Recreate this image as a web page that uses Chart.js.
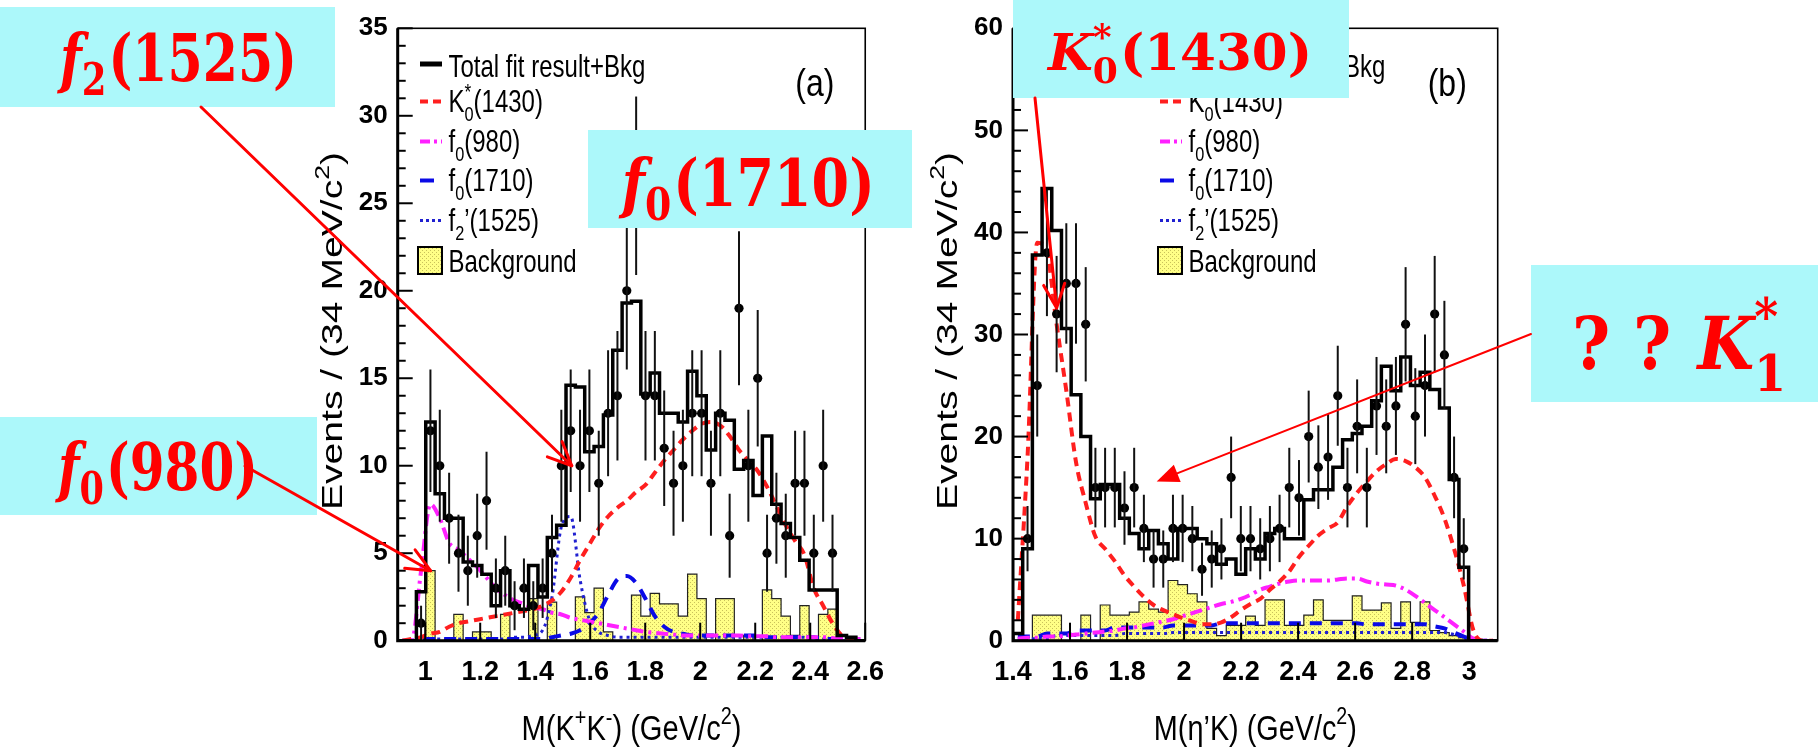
<!DOCTYPE html>
<html>
<head>
<meta charset="utf-8">
<script src="https://cdn.jsdelivr.net/npm/chart.js@4.4.1/dist/chart.umd.min.js"></script>
<style>
  html, body { margin: 0; padding: 0; background: #fff; }
  #wrap { position: relative; width: 1818px; height: 752px; overflow: hidden; background: #fff; }
  #wrap canvas { position: absolute; top: 0; }
</style>
</head>
<body>
<div id="wrap">
  <canvas id="chartA" width="900" height="752" style="left:0px"></canvas>
  <canvas id="chartB" width="918" height="752" style="left:900px"></canvas>
  <canvas id="notes" width="1818" height="752" style="left:0px"></canvas>
</div>
<script>
// ---------- (a) M(K+K-) spectrum: 50 bins of 34 MeV from 0.9 to 2.6 GeV/c^2 ----------
const kkLow = 0.9, kkBin = 0.034, kkHigh = 2.6;
const kkData = [null,null,1,12,10,7,5,4,6,8,3,4,2,3,2,3,5,10,12,10,12,9,13,14,20,26,14,14,11,9,10,13,13,9,13,6,19,10,15,5,7,6,9,9,5,10,5,null,null,null];
const kkErr  = [null,null,1.0,3.5,3.2,2.6,2.2,2.0,2.4,2.8,1.7,2.0,1.4,1.7,1.4,1.7,2.2,3.2,3.5,3.2,3.5,3.0,3.6,3.7,4.5,5.1,3.7,3.7,3.3,3.0,3.2,3.6,3.6,3.0,3.6,2.4,4.4,3.2,3.9,2.2,2.6,2.4,3.0,3.0,2.2,3.2,2.2,null,null,null];
const kkTotal = [0,0,2.8,12.5,8.4,7.0,7.0,4.5,4.3,3.8,2.0,4.0,2.0,1.8,4.3,2.5,5.9,6.6,14.6,14.5,10.8,11.1,12.9,16.6,19.3,19.4,14.1,15.3,13.0,13.0,12.5,15.4,14.0,10.9,13.0,12.6,9.8,10.3,8.3,11.7,7.8,6.7,5.9,4.6,2.9,2.9,2.9,0.3,0.2,0];
const kkK0    = [0,0.1,0.2,0.4,0.5,0.8,1.0,1.1,1.2,1.3,1.4,1.5,1.6,1.7,1.8,2.0,2.3,2.8,3.6,4.6,5.5,6.4,7.1,7.6,8.0,8.5,8.9,9.6,10.3,10.9,11.5,12.0,12.4,12.5,12.3,11.7,10.9,10.3,9.7,8.8,7.7,6.6,5.7,4.9,3.0,2.0,1.0,0.3,0.1,0];
const kkF980  = [0,0,4.0,7.8,7.0,5.6,5.2,4.7,4.2,3.6,3.0,2.6,2.3,2.1,1.9,1.8,1.6,1.5,1.3,1.2,1.1,1.0,0.9,0.8,0.7,0.6,0.5,0.45,0.4,0.35,0.3,0.3,0.3,0.3,0.3,0.3,0.3,0.25,0.25,0.25,0.2,0.2,0.2,0.2,0.2,0.2,0.15,0.1,0.1,0.1];
const kkF1710 = [0,0,0.1,0.1,0.1,0.1,0.1,0.1,0.1,0.1,0.1,0.1,0.1,0.1,0.1,0.1,0.2,0.3,0.4,0.6,1.0,1.6,2.6,3.5,3.7,3.3,2.4,1.4,0.8,0.5,0.4,0.3,0.3,0.3,0.3,0.3,0.3,0.3,0.3,0.2,0.2,0.2,0.2,0.2,0.2,0.1,0.1,0,0,0];
const kkF1525 = [0,0,0.1,0.1,0.1,0.1,0.1,0.1,0.1,0.1,0.1,0.1,0.2,0.2,0.3,0.6,2.5,6.5,7.1,3.5,1.2,0.5,0.3,0.2,0.2,0.2,0.2,0.2,0.2,0.2,0.2,0.2,0.2,0.2,0.2,0.2,0.2,0.2,0.2,0.2,0.2,0.2,0.2,0.2,0.1,0.1,0.1,0,0,0];
const kkBkg   = [0,0,0,4.0,0,0,1.5,0,0.5,0.5,0,1.5,0,0,2.4,0,2.2,0,0,2.5,1.6,3.0,0.5,0,0,2.6,1.4,2.7,2.1,2.1,1.4,3.8,2.4,0,2.4,2.4,0,0.3,0,2.9,2.4,1.4,0.3,2.0,0,1.5,1.8,0,0,0];
const kkXTicks = [1, 1.2, 1.4, 1.6, 1.8, 2, 2.2, 2.4, 2.6];
const kkXLabels = ['1', '1.2', '1.4', '1.6', '1.8', '2', '2.2', '2.4', '2.6'];
const kkYTicks = [0, 5, 10, 15, 20, 25, 30, 35];
const kkYLabels = ['0', '5', '10', '15', '20', '25', '30', '35'];
const kkYMinorStep = 1;

// ---------- (b) M(eta'K) spectrum: 50 bins of 34 MeV from 1.4 to 3.1 GeV/c^2 ----------
const ekLow = 1.4, ekBin = 0.034, ekHigh = 3.1;
const ekData = [null,10,25,38,32,35,35,31,15,15,15,13,15,11,8,8,11,11,10,7,8,9,16,10,10,9,10,11,15,14,20,17,18,24,15,21,15,23,21,23,31,22,25,32,28,16,9,null,null,null];
const ekErr  = [null,3.2,5.0,6.2,5.7,5.9,5.9,5.6,3.9,3.9,3.9,3.6,3.9,3.3,2.8,2.8,3.3,3.3,3.2,2.6,2.8,3.0,4.0,3.2,3.2,3.0,3.2,3.3,3.9,3.7,4.5,4.1,4.2,4.9,3.9,4.6,3.9,4.8,4.6,4.8,5.6,4.7,5.0,5.7,5.3,4.0,3.0,null,null,null];
const ekTotal = [0.7,9.0,37.8,44.3,40.2,30.6,24.1,20.0,13.9,15.3,15.3,12.0,10.5,9.0,10.8,9.5,8.0,11.0,11.0,10.0,9.5,7.5,8.0,6.5,9.0,8.0,10.5,11.0,10.0,10.0,13.8,14.8,14.8,17.0,19.7,20.3,21.0,23.5,26.9,24.5,27.8,25.0,26.3,24.6,22.8,15.8,7.2,0,0,0];
const ekK0    = [2,18,39,38,31,24.5,17.5,13.5,10.2,9.0,7.8,6.4,5.3,4.3,3.5,3.0,2.6,2.2,1.9,1.6,1.6,1.8,2.3,3.0,3.6,4.1,5.0,5.8,6.8,8.2,9.3,10.3,11.0,11.6,13.2,14.5,15.6,16.6,17.3,17.8,17.6,17.0,16.0,14.2,12.0,9.0,5.4,1.0,0,0];
const ekF980  = [0.2,0.3,0.3,0.4,0.4,0.5,0.6,0.7,0.8,0.9,1.0,1.2,1.3,1.5,1.7,1.9,2.1,2.4,2.7,3.0,3.3,3.6,3.8,4.1,4.5,5.0,5.3,5.6,5.8,5.9,5.9,5.9,5.9,6.0,6.1,6.1,5.8,5.6,5.5,5.4,5.0,4.4,3.7,3.0,2.3,1.6,0.9,0.2,0,0];
const ekF1710 = [0.4,0.4,0.4,0.7,0.7,0.7,1.0,1.0,1.0,1.0,1.3,1.3,1.3,1.3,1.3,1.3,1.5,1.5,1.5,1.5,1.5,1.7,1.7,1.7,1.7,1.7,1.7,1.7,1.7,1.7,1.7,1.7,1.7,1.7,1.7,1.7,1.6,1.6,1.6,1.6,1.6,1.6,1.6,1.4,1.2,0.8,0.4,0.1,0,0];
const ekF1525 = [0.2,0.2,0.2,0.2,0.5,0.5,0.5,0.5,0.5,0.5,0.5,0.7,0.7,0.7,0.7,0.7,0.8,0.8,0.8,0.8,0.8,0.8,0.8,0.8,0.8,0.8,0.8,0.8,0.8,0.8,0.8,0.8,0.8,0.8,0.8,0.8,0.8,0.8,0.8,0.8,0.8,0.8,0.8,0.8,0.8,0.6,0.3,0,0,0];
const ekBkg   = [0,0,2.5,2.5,2.5,0,0,2.5,0,3.5,2.5,2.5,2.8,3.8,3.1,2.8,5.9,5.5,4.6,3.8,1.2,0.5,1.5,1.5,2.4,1.5,4.0,4.0,1.5,1.5,2.5,4.0,2.0,2.0,2.0,4.4,3.0,3.0,3.7,1.2,3.8,1.8,3.8,1.0,0.8,0.5,0.3,0,0,0];
const ekXTicks = [1.4, 1.6, 1.8, 2, 2.2, 2.4, 2.6, 2.8, 3];
const ekXLabels = ['1.4', '1.6', '1.8', '2', '2.2', '2.4', '2.6', '2.8', '3'];
const ekYTicks = [0, 10, 20, 30, 40, 50, 60];
const ekYLabels = ['0', '10', '20', '30', '40', '50', '60'];
const ekYMinorStep = 2;

const legendNames = [
  [{t: 'Total fit result+Bkg'}],
  [{t: 'K'}, {t: '*', k: 0.72, dy: -0.42, stack: true}, {t: '0', k: 0.68, dy: 0.3}, {t: '(1430)'}],
  [{t: 'f'}, {t: '0', k: 0.68, dy: 0.3}, {t: '(980)'}],
  [{t: 'f'}, {t: '0', k: 0.68, dy: 0.3}, {t: '(1710)'}],
  [{t: 'f'}, {t: '2', k: 0.68, dy: 0.3}, {t: '\u2019(1525)'}],
  [{t: 'Background'}]
];

// ---------- helpers ----------
const stepPoints = (lo, w, vals) => {
  const pts = [{x: lo, y: 0}];
  vals.forEach((v, i) => pts.push({x: lo + i * w, y: v}));
  pts.push({x: lo + vals.length * w, y: vals[vals.length - 1]});
  pts.push({x: lo + vals.length * w, y: 0});
  return pts;
};
const centerPoints = (lo, w, vals) =>
  vals.map((v, i) => ({x: lo + (i + 0.5) * w, y: v})).filter(p => p.y !== null);

function segFont(s, size, family, base) {
  const st = s.st || base || '';
  return `${st} ${size * (s.k || 1)}px ${family}`.trim();
}
function richWidth(ctx, segs, size, family, base) {
  let w = 0;
  for (const s of segs) {
    ctx.font = segFont(s, size, family, base);
    if (!s.stack) w += ctx.measureText(s.t).width + (s.gap || 0) * size;
  }
  return w;
}
// draws a run of text pieces (sub/superscripts) starting at the current origin, baseline y=0
function richDraw(ctx, segs, size, family, base) {
  let cx = 0;
  for (const s of segs) {
    ctx.font = segFont(s, size, family, base);
    ctx.fillText(s.t, cx, (s.dy || 0) * size);
    if (!s.stack) cx += ctx.measureText(s.t).width + (s.gap || 0) * size;
  }
}
// text placed by left/baseline, stretched to a width and vertically by sy, optional rotation
function richText(ctx, segs, o) {
  ctx.save();
  ctx.fillStyle = o.color || '#000';
  ctx.textBaseline = 'alphabetic';
  ctx.textAlign = 'left';
  const nat = richWidth(ctx, segs, o.size, o.family, o.base);
  const sx = o.width ? o.width / nat : 1;
  ctx.translate(o.x, o.y);
  if (o.rot) ctx.rotate(o.rot);
  ctx.scale(sx, o.sy || 1);
  richDraw(ctx, segs, o.size, o.family, o.base);
  ctx.restore();
}

function bkgPattern(ctx) {
  const c = document.createElement('canvas');
  c.width = 4; c.height = 4;
  const g = c.getContext('2d');
  g.fillStyle = '#ffff86';
  g.fillRect(0, 0, 4, 4);
  g.fillStyle = '#c9c25a';
  g.fillRect(0, 0, 1, 1);
  g.fillRect(2, 2, 1, 1);
  return ctx.createPattern(c, 'repeat');
}

const SANS = '"Liberation Sans", Arial, Helvetica, sans-serif';
const SERIF = '"DejaVu Serif", serif';

// error bars of the data points, drawn through the chart scales
const errorBarPlugin = {
  id: 'errorBars',
  afterDatasetsDraw(chart, args, o) {
    const {ctx, scales: {x, y}} = chart;
    ctx.save();
    ctx.strokeStyle = '#111';
    ctx.lineWidth = 2;
    o.vals.forEach((v, i) => {
      if (v === null) return;
      const px = x.getPixelForValue(o.lo + (i + 0.5) * o.w);
      ctx.beginPath();
      ctx.moveTo(px, y.getPixelForValue(Math.max(0, v - o.errs[i])));
      ctx.lineTo(px, y.getPixelForValue(v + o.errs[i]));
      ctx.stroke();
    });
    ctx.restore();
  }
};

// frame, inward ROOT-style ticks, legend, axis titles and panel tag
const framePlugin = {
  id: 'frameDeco',
  afterDraw(chart, args, o) {
    const {ctx, chartArea: a, scales: {x, y}} = chart;
    ctx.save();
    // ticks
    ctx.strokeStyle = '#000';
    ctx.lineWidth = 2;
    for (let v = y.min; v <= y.max + 1e-9; v += o.yMinorStep) {
      const py = y.getPixelForValue(v);
      const major = o.yTicks.some(t => Math.abs(t - v) < 1e-6);
      ctx.beginPath();
      ctx.moveTo(a.left, py);
      ctx.lineTo(a.left + (major ? 15 : 8), py);
      ctx.stroke();
    }
    o.xTicks.forEach(v => {
      const px = x.getPixelForValue(v);
      ctx.beginPath(); ctx.moveTo(px, a.bottom); ctx.lineTo(px, a.bottom - 18); ctx.stroke();
    });
    // frame
    ctx.lineWidth = 1.6;
    ctx.strokeRect(a.left, a.top, a.right - a.left, a.bottom - a.top);
    ctx.lineWidth = 3;
    ctx.beginPath();
    ctx.moveTo(a.left, a.top); ctx.lineTo(a.left, a.bottom); ctx.lineTo(a.right, a.bottom);
    ctx.stroke();

    // legend
    const lx = a.left + o.legendDx;
    const bases = [77, 112, 152, 191, 231, 272];
    o.legend.forEach((row, i) => {
      const b = bases[i];
      const cy = b - (i === 0 ? 13 : 10.5);
      if (row.kind === 'box') {
        ctx.fillStyle = o.pattern;
        ctx.fillRect(lx - 2, b - 25, 24, 27);
        ctx.strokeStyle = '#000';
        ctx.lineWidth = 2;
        ctx.strokeRect(lx - 2, b - 25, 24, 27);
      } else {
        ctx.strokeStyle = row.color;
        ctx.lineWidth = row.lw;
        ctx.setLineDash(row.dash);
        ctx.beginPath();
        ctx.moveTo(lx, cy); ctx.lineTo(lx + 22, cy);
        ctx.stroke();
        ctx.setLineDash([]);
      }
      richText(ctx, legendNames[i], {x: lx + 28.5, y: b, size: 24, family: SANS, sy: 1.27});
    });

    // panel tag
    richText(ctx, [{t: o.tag}], {x: a.right - 70, y: a.top + 68, size: 32, family: SANS, sy: 1.22});

    // axis titles
    const yt = [{t: 'Events / (34 MeV/c'}, {t: '2', k: 0.68, dy: -0.45}, {t: ')'}];
    richText(ctx, yt, {x: a.left - 55.7, y: a.bottom - 130.7, size: 30, family: SANS, width: 358, rot: -Math.PI / 2});
    const xw = o.xTitleWidth;
    richText(ctx, o.xTitle, {x: (a.left + a.right) / 2 - xw / 2, y: a.bottom + 99.3, size: 30, family: SANS, width: xw, sy: 1.16});
    ctx.restore();
  }
};

function panel(canvasId, p) {
  const canvas = document.getElementById(canvasId);
  const ctx = canvas.getContext('2d');
  const pattern = bkgPattern(ctx);
  const legend = [
    {kind: 'line', color: '#000', lw: 5, dash: []},
    {kind: 'line', color: '#ff1f1f', lw: 4, dash: [8, 5]},
    {kind: 'line', color: '#ff20ff', lw: 4, dash: [10, 4, 3, 4]},
    {kind: 'line', color: '#0a0ae6', lw: 4, dash: [14, 30]},
    {kind: 'line', color: '#2020d0', lw: 3, dash: [3, 3]},
    {kind: 'box'}
  ];
  const line = (vals, color, width, dash, order) => ({
    type: 'line', data: centerPoints(p.lo, p.w, vals), borderColor: color, borderWidth: width,
    borderDash: dash, pointRadius: 0, tension: 0.35, cubicInterpolationMode: 'monotone', fill: false, order
  });
  return new Chart(ctx, {
    type: 'line',
    data: {
      datasets: [
        {type: 'scatter', data: centerPoints(p.lo, p.w, p.data), showLine: false, pointRadius: 4.6,
         pointBackgroundColor: '#000', pointBorderWidth: 0, order: 0},
        {type: 'line', data: stepPoints(p.lo, p.w, p.total), stepped: 'before', borderColor: '#000',
         borderWidth: 3.5, pointRadius: 0, fill: false, order: 1},
        line(p.k0, '#ff1f1f', 4, [9, 6], 2),
        line(p.f980, '#ff20ff', 4, [12, 5, 3, 5], 3),
        line(p.f1710, '#0a0ae6', 4, [12, 9], 4),
        line(p.f1525, '#2020d0', 3, [3, 4], 5),
        {type: 'line', data: stepPoints(p.lo, p.w, p.bkg), stepped: 'before', borderColor: '#222',
         borderWidth: 1.2, backgroundColor: pattern, fill: 'origin', pointRadius: 0, order: 9}
      ]
    },
    plugins: [errorBarPlugin, framePlugin],
    options: {
      responsive: false,
      animation: false,
      devicePixelRatio: 1,
      layout: {padding: {left: 0, top: 28.3, right: p.padRight, bottom: 0}},
      plugins: {
        legend: {display: false},
        tooltip: {enabled: false},
        errorBars: {lo: p.lo, w: p.w, vals: p.data, errs: p.errs},
        frameDeco: {yTicks: p.yTicks, yMinorStep: p.yMinorStep, xTicks: p.xTicks,
                    legend, legendDx: p.legendDx, pattern, tag: p.tag, xTitle: p.xTitle, xTitleWidth: p.xTitleWidth}
      },
      scales: {
        x: {
          type: 'linear', min: p.lo, max: p.hi,
          afterBuildTicks: s => { s.ticks = p.xTicks.map(v => ({value: v})); },
          afterFit: s => { s.height = 752 - 640.7; },
          grid: {display: false, drawTicks: false}, border: {display: false},
          ticks: {callback: (v, i) => p.xLabels[i], color: '#000', padding: 16, maxRotation: 0, autoSkip: false,
                  font: {family: SANS, weight: 'bold', size: 27}}
        },
        y: {
          type: 'linear', min: 0, max: p.yTicks[p.yTicks.length - 1],
          afterBuildTicks: s => { s.ticks = p.yTicks.map(v => ({value: v})); },
          afterFit: s => { s.width = p.axisLeft; },
          grid: {display: false, drawTicks: false}, border: {display: false},
          ticks: {callback: (v, i) => p.yLabels[i], color: '#000', padding: 10, autoSkip: false,
                  font: {family: SANS, weight: 'bold', size: 26}}
        }
      }
    }
  });
}

const chartA = panel('chartA', {
  lo: kkLow, w: kkBin, hi: kkHigh, data: kkData, errs: kkErr, total: kkTotal, k0: kkK0, f980: kkF980,
  f1710: kkF1710, f1525: kkF1525, bkg: kkBkg, xTicks: kkXTicks, xLabels: kkXLabels,
  yTicks: kkYTicks, yLabels: kkYLabels, yMinorStep: kkYMinorStep, axisLeft: 397.7, padRight: 900 - 881,
  legendDx: 22.3, tag: '(a)', xTitleWidth: 220,
  xTitle: [{t: 'M(K'}, {t: '+', k: 0.68, dy: -0.42}, {t: 'K'}, {t: '-', k: 0.68, dy: -0.42}, {t: ') (GeV/c'}, {t: '2', k: 0.68, dy: -0.45}, {t: ')'}]
});
const chartB = panel('chartB', {
  lo: ekLow, w: ekBin, hi: ekHigh, data: ekData, errs: ekErr, total: ekTotal, k0: ekK0, f980: ekF980,
  f1710: ekF1710, f1525: ekF1525, bkg: ekBkg, xTicks: ekXTicks, xLabels: ekXLabels,
  yTicks: ekYTicks, yLabels: ekYLabels, yMinorStep: ekYMinorStep, axisLeft: 113, padRight: 918 - 597.7,
  legendDx: 147, tag: '(b)', xTitleWidth: 203,
  xTitle: [{t: 'M(\u03b7\u2019K) (GeV/c'}, {t: '2', k: 0.68, dy: -0.45}, {t: ')'}]
});

// ---------- call-out boxes and arrows ----------
const noteCtx = document.getElementById('notes').getContext('2d');
const CYAN = 'rgb(172,248,250)';
const RED = '#ff0000';
const callouts = [
  {box: [0, 7, 335, 100], x: 60, y: 81, w: 237, size: 50, sy: 1.3,
   text: [{t: 'f', st: 'italic bold'}, {t: '2', k: 0.7, dy: 0.22, gap: 0.04}, {t: '(1525)'}]},
  {box: [0, 417, 317, 98], x: 58, y: 490, w: 200, size: 50, sy: 1.3,
   text: [{t: 'f', st: 'italic bold'}, {t: '0', k: 0.7, dy: 0.22, gap: 0.04}, {t: '(980)'}]},
  {box: [588, 130, 324, 98], x: 621.7, y: 206, w: 253, size: 50, sy: 1.3,
   text: [{t: 'f', st: 'italic bold'}, {t: '0', k: 0.7, dy: 0.22, gap: 0.04}, {t: '(1710)'}]},
  {box: [1013, 0, 336, 98], x: 1048, y: 70, w: 264, size: 50, sy: 1.0,
   text: [{t: 'K', st: 'italic bold'}, {t: '*', k: 0.7, dy: -0.42, stack: true}, {t: '0', k: 0.7, dy: 0.25, gap: 0.04}, {t: '(1430)'}]},
  {box: [1531, 265, 287, 137], x: 1572, y: 369, w: 214, size: 56, sy: 1.3,
   text: [{t: '?', gap: 0.35}, {t: '?', gap: 0.4}, {t: 'K', st: 'italic bold'}, {t: '*', k: 0.7, dy: -0.48, stack: true}, {t: '1', k: 0.7, dy: 0.3}]}
];
callouts.forEach(c => {
  noteCtx.fillStyle = CYAN;
  noteCtx.fillRect(c.box[0], c.box[1], c.box[2], c.box[3]);
  richText(noteCtx, c.text, {x: c.x, y: c.y, size: c.size, family: SERIF, base: 'bold', width: c.w, sy: c.sy, color: RED});
});

function arrow(ctx, x0, y0, x1, y1, o) {
  const ang = Math.atan2(y1 - y0, x1 - x0);
  ctx.save();
  ctx.strokeStyle = RED; ctx.fillStyle = RED;
  ctx.lineWidth = o.lw; ctx.lineCap = 'round'; ctx.lineJoin = 'round';
  ctx.beginPath();
  ctx.moveTo(x0, y0);
  ctx.lineTo(o.filled ? x1 - Math.cos(ang) * o.len * 0.8 : x1, o.filled ? y1 - Math.sin(ang) * o.len * 0.8 : y1);
  ctx.stroke();
  const a1 = ang + Math.PI - o.spread, a2 = ang + Math.PI + o.spread;
  ctx.beginPath();
  ctx.moveTo(x1 + Math.cos(a1) * o.len, y1 + Math.sin(a1) * o.len);
  ctx.lineTo(x1, y1);
  ctx.lineTo(x1 + Math.cos(a2) * o.len, y1 + Math.sin(a2) * o.len);
  if (o.filled) { ctx.closePath(); ctx.fill(); } else { ctx.stroke(); }
  ctx.restore();
}
// tips are placed on the data through each panel's scales
const tipOf = (chart, left, xv, yv) => [left + chart.scales.x.getPixelForValue(xv), chart.scales.y.getPixelForValue(yv)];
const pointers = [
  {from: [201, 107], tip: tipOf(chartA, 0, 1.533, 10.0), lw: 3, len: 26, spread: 0.42},
  {from: [245, 466], tip: tipOf(chartA, 0, 1.0196, 4.0), lw: 3, len: 26, spread: 0.42},
  {from: [1035, 98], tip: tipOf(chartB, 900, 1.553, 32.6), lw: 3, len: 26, spread: 0.42},
  {from: [1531, 334], tip: tipOf(chartB, 900, 1.904, 15.6), lw: 2, len: 24, spread: 0.4, filled: true}
];
pointers.forEach(p => arrow(noteCtx, p.from[0], p.from[1], p.tip[0], p.tip[1], p));
</script>
</body>
</html>
